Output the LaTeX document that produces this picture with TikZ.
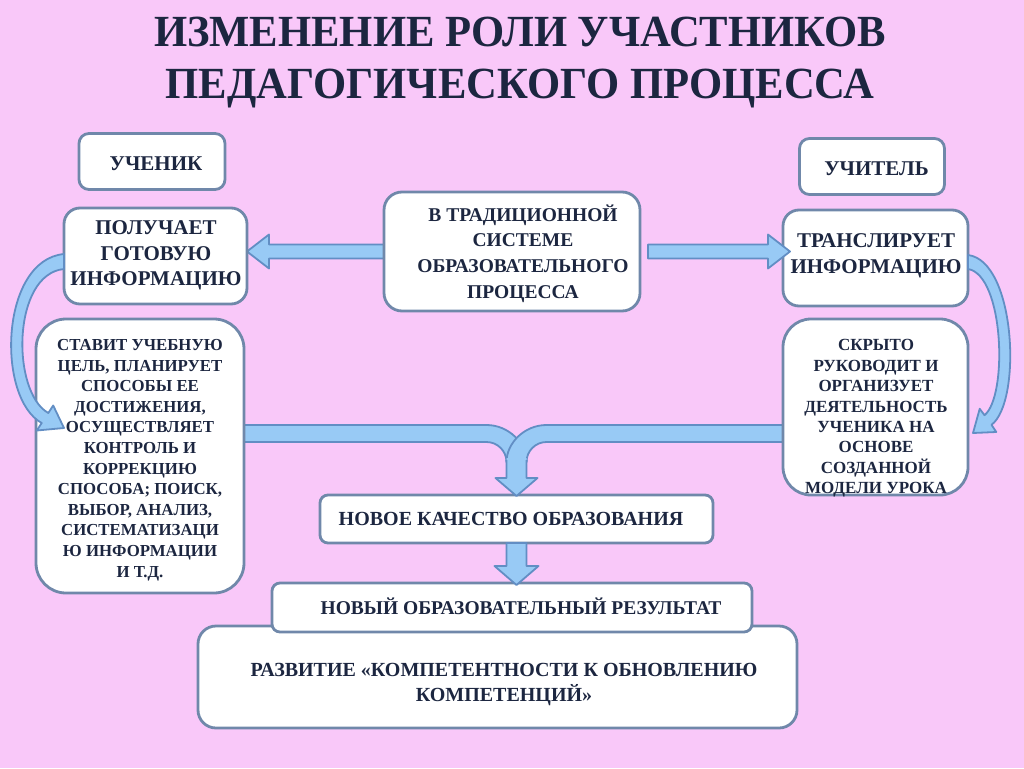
\documentclass[tikz,border=0pt]{standalone}
\usepackage{fontspec}
\setmainfont{Liberation Serif}
\usetikzlibrary{calc}
\definecolor{bgpink}{RGB}{249,200,249}
\definecolor{boxline}{RGB}{112,136,170}
\definecolor{arrfill}{RGB}{152,202,245}
\definecolor{arrline}{RGB}{98,142,196}
\definecolor{ink}{RGB}{28,38,64}
\newcommand{\myfs}[2]{\fontsize{#1pt}{#2pt}\selectfont\bfseries}
\newcommand{\harr}[3]{%
  \draw[barrow] let \p1=(#1), \p2=(#2) in
   (\x1,\y2+7pt) -- (\x2+#3pt,\y2+7pt) -- (\x2+#3pt,\y2+17pt) -- (\x2,\y2) --
   (\x2+#3pt,\y2-17pt) -- (\x2+#3pt,\y2-7pt) -- (\x1,\y2-7pt) -- cycle;}
\newcommand{\varr}[3]{%
  \draw[barrow] let \p1=(#1), \p2=(#2) in
   (\x2-10pt,\y1) -- (\x2-10pt,\y2+#3pt) -- (\x2-22pt,\y2+#3pt) -- (\x2,\y2) --
   (\x2+22pt,\y2+#3pt) -- (\x2+10pt,\y2+#3pt) -- (\x2+10pt,\y1) -- cycle;}
\tikzset{
  box/.style={draw=boxline, line width=2.8pt, fill=white, rectangle,
    rounded corners=#1, inner sep=0pt, outer sep=0pt},
  box/.default=14pt,
  txt/.style={text=ink, align=center, inner sep=0pt},
  barrow/.style={fill=arrfill, draw=arrline, line width=1.8pt, line join=round},
  bfill/.style={fill=arrfill},
  bline/.style={draw=arrline, line width=1.8pt, line join=round},
}
\begin{document}
\begin{tikzpicture}[x=1pt,y=-1pt]
\fill[bgpink] (0,0) rectangle (1024,768);
\useasboundingbox (0,0) rectangle (1024,768);

% title
\node[txt, font={\myfs{44.5}{48}}, anchor=base] (title1) at (520,47) {\scalebox{0.958}[1]{ИЗМЕНЕНИЕ РОЛИ УЧАСТНИКОВ}};
\node[txt, font={\myfs{44.5}{48}}, anchor=base] (title2) at (520,98) {\scalebox{0.958}[1]{ПЕДАГОГИЧЕСКОГО ПРОЦЕССА}};

% box positions
\path
  (152,161.5)   coordinate (p-uch)
  (872,166.5)   coordinate (p-uchit)
  (155.5,256)   coordinate (p-get)
  (512,251.5)   coordinate (p-mid)
  (875.5,258)   coordinate (p-trans)
  (140,456)     coordinate (p-stav)
  (875.5,407)   coordinate (p-skr)
  (516.5,519)   coordinate (p-nov)
  (512,607.5)   coordinate (p-res)
  (497.5,677)   coordinate (p-dev);

% invisible helpers for node geometry (same sizes as boxes)
\node[minimum width=208pt, minimum height=274pt, inner sep=0pt, outer sep=0pt] (b-stav) at (p-stav) {};
\node[minimum width=185pt, minimum height=176pt, inner sep=0pt, outer sep=0pt] (b-skr) at (p-skr) {};
\node[minimum width=393pt, minimum height=48pt, inner sep=0pt, outer sep=0pt] (b-nov) at (p-nov) {};
\node[minimum width=183pt, minimum height=96pt, inner sep=0pt, outer sep=0pt] (b-get) at (p-get) {};
\node[minimum width=256pt, minimum height=119pt, inner sep=0pt, outer sep=0pt] (b-mid) at (p-mid) {};

% bracket pieces (under boxes)
\begin{scope}[shift={(b-nov.north)}]
\draw[barrow] (b-stav.east |- 0,-70) -- (-30,-70) .. controls (-8,-70) and (10,-52) .. (10,-33)
   -- (-10,-33) .. controls (-10,-44) and (-19,-53) .. (-30,-53) -- (b-stav.east |- 0,-53) -- cycle;
\draw[barrow] (b-skr.west |- 0,-70) -- (30,-70) .. controls (8,-70) and (-10,-52) .. (-10,-33)
   -- (10,-33) .. controls (10,-44) and (19,-53) .. (30,-53) -- (b-skr.west |- 0,-53) -- cycle;
\end{scope}

% left horizontal arrow (under boxes)
\harr{b-mid.west}{b-get.east |- b-mid.west}{22}

% boxes
\node[box=10pt, minimum width=146pt, minimum height=56pt] (bx-uch) at (p-uch) {};
\node[box=10pt, minimum width=145pt, minimum height=56pt] (bx-uchit) at (p-uchit) {};
\node[box=16pt, minimum width=183pt, minimum height=96pt] (bx-get) at (p-get) {};
\node[box=18pt, minimum width=256pt, minimum height=119pt] (bx-mid) at (p-mid) {};
\node[box=16pt, minimum width=185pt, minimum height=96pt] (bx-trans) at (p-trans) {};
\node[box=30pt, minimum width=208pt, minimum height=274pt] (bx-stav) at (p-stav) {};
\node[box=28pt, minimum width=185pt, minimum height=176pt] (bx-skr) at (p-skr) {};
\node[box=8pt, minimum width=393pt, minimum height=48pt] (bx-nov) at (p-nov) {};
\node[box=18pt, minimum width=599pt, minimum height=102pt] (bx-dev) at (p-dev) {};
\node[box=8pt, minimum width=480pt, minimum height=49pt] (bx-res) at (p-res) {};

% texts
\node[txt, font={\myfs{21}{24}}, anchor=base] (t-uch) at (156,170) {УЧЕНИК};
\node[txt, font={\myfs{21}{24}}, anchor=base] (t-uchit) at (876.5,175) {УЧИТЕЛЬ};
\node[txt, font={\myfs{21}{25.5}}] (t-get) at (156,255.5) {ПОЛУЧАЕТ\\ГОТОВУЮ\\ИНФОРМАЦИЮ};
\node[txt, font={\myfs{19.5}{25.7}}] (t-mid) at (523,253.5) {В ТРАДИЦИОННОЙ\\СИСТЕМЕ\\ОБРАЗОВАТЕЛЬНОГО\\ПРОЦЕССА};
\node[txt, font={\myfs{21}{25.5}}] (t-trans) at (876,256) {ТРАНСЛИРУЕТ\\ИНФОРМАЦИЮ};
\node[txt, font={\myfs{16.8}{20.6}}] (t-stav) at (140,460) {СТАВИТ УЧЕБНУЮ\\ЦЕЛЬ, ПЛАНИРУЕТ\\СПОСОБЫ ЕЕ\\ДОСТИЖЕНИЯ,\\ОСУЩЕСТВЛЯЕТ\\КОНТРОЛЬ И\\КОРРЕКЦИЮ\\СПОСОБА; ПОИСК,\\ВЫБОР, АНАЛИЗ,\\СИСТЕМАТИЗАЦИ\\Ю ИНФОРМАЦИИ\\И Т.Д.};
\node[txt, font={\myfs{17}{20.4}}] (t-skr) at (876,418.5) {СКРЫТО\\РУКОВОДИТ И\\ОРГАНИЗУЕТ\\ДЕЯТЕЛЬНОСТЬ\\УЧЕНИКА НА\\ОСНОВЕ\\СОЗДАННОЙ\\МОДЕЛИ УРОКА};
\node[txt, font={\myfs{20}{24}}] (t-nov) at (511,519) {НОВОЕ КАЧЕСТВО ОБРАЗОВАНИЯ};
\node[txt, font={\myfs{19.5}{24}}] (t-res) at (521,606) {НОВЫЙ ОБРАЗОВАТЕЛЬНЫЙ РЕЗУЛЬТАТ};
\node[txt, font={\myfs{20}{25}}] (t-dev) at (504,684.5) {РАЗВИТИЕ «КОМПЕТЕНТНОСТИ К ОБНОВЛЕНИЮ\\КОМПЕТЕНЦИЙ»};

% right horizontal arrow (over boxes)
\coordinate (rs) at ([xshift=8pt]bx-mid.east);
\coordinate (rt) at ([xshift=7pt]bx-trans.west);
\harr{rs}{rt |- bx-mid.east}{-22}

% bracket stem and head
\begin{scope}[shift={(bx-nov.north)}]
\fill[bfill] (-10,-37) -- (-10,-17) -- (-21,-17) -- (0,1) -- (21,-17) -- (10,-17) -- (10,-37) -- cycle;
\draw[bline] (-10,-35) -- (-10,-17) -- (-21,-17) -- (0,1) -- (21,-17) -- (10,-17) -- (10,-35);
\end{scope}

% down arrow nov -> res
\coordinate (dt) at ([yshift=-2pt]bx-nov.south |- bx-res.north);
\varr{bx-nov.south}{dt}{19}

% curved arrows
\begin{scope}[shift={(bx-get.west)}]
\draw[barrow] (0,-2) .. controls (-64,4) and (-68,142) .. (-22.3,167)
  -- (-27.2,174.5) -- (0,172) -- (-10.8,149.5) -- (-15.7,157)
  .. controls (-53,136) and (-52,18) .. (0,13) -- cycle;
\end{scope}
\begin{scope}[shift={(bx-trans.east)}]
\draw[barrow] (0,-3) .. controls (48,3) and (54,144) .. (23.5,166.8)
  -- (28.3,174) -- (5,175) -- (11.7,150.8) -- (16.5,157.2)
  .. controls (40,138) and (36,17) .. (0,11) -- cycle;
\end{scope}
\end{tikzpicture}
\end{document}
